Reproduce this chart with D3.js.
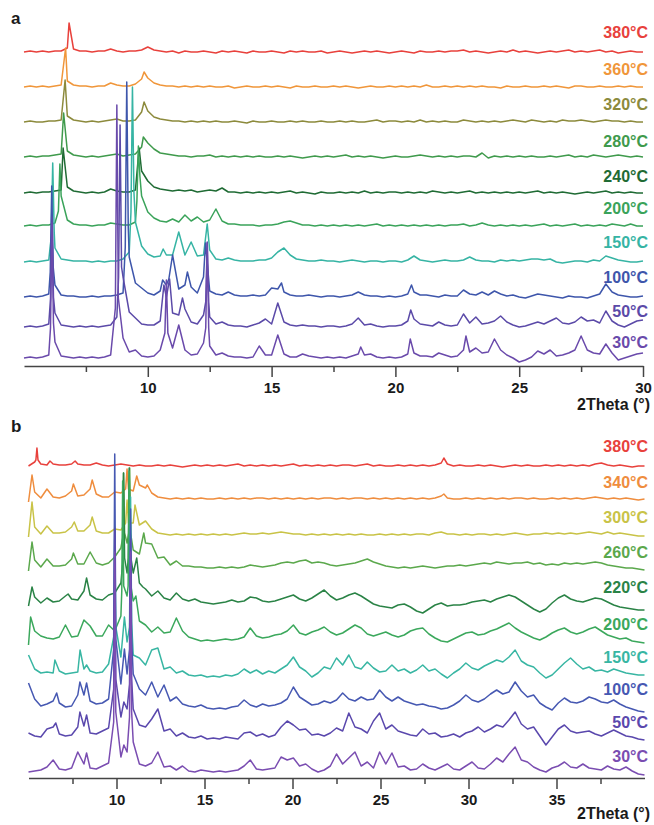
<!DOCTYPE html>
<html>
<head>
<meta charset="utf-8">
<script src="https://cdn.jsdelivr.net/npm/d3@7"></script>
<style>
  html, body { margin: 0; padding: 0; background: #ffffff; }
  svg { display: block; font-family: "Liberation Sans", Arial, sans-serif; }
</style>
</head>
<body>
<svg id="chart" width="654" height="825"></svg>
<script>
// ---------------------------------------------------------------
// In-situ variable-temperature PXRD patterns (two samples, a and b)
// Each pattern: intensities sampled on a regular 2θ grid, plus extra
// [2θ, intensity] points at reflection maxima between grid nodes.
// ---------------------------------------------------------------

// 2θ sampling of the patterns
const gridA = { start: 5, step: 0.25 };   // 5–30°, 101 points
const gridB = { start: 5, step: 0.35 };   // 5–40°, 101 points

// axis ticks
const majorA = [10, 15, 20, 25, 30];
const minorA = [7.5, 12.5, 17.5, 22.5, 27.5];
const majorB = [10, 15, 20, 25, 30, 35];
const minorB = [7.5, 12.5, 17.5, 22.5, 27.5, 32.5, 37.5];

// temperatures, top to bottom
const tempA = ["380°C", "360°C", "320°C", "280°C", "240°C", "200°C", "150°C", "100°C", "50°C", "30°C"];
const tempB = ["380°C", "340°C", "300°C", "260°C", "220°C", "200°C", "150°C", "100°C", "50°C", "30°C"];

// ---------------- sample a ----------------
const a380 = [
  0,1,0,1,0,1,1,4,3,1,
  1,0,1,1,3,1,0,1,1,2,
  5,2,1,0,1,-1,1,0,0,1,
  0,-1,1,0,1,0,-1,1,0,0,
  1,0,-1,1,0,1,0,0,1,-1,
  0,1,0,-1,0,1,0,1,0,-1,
  0,1,0,-1,1,0,0,1,0,1,
  1,2,0,1,0,-1,0,1,0,2,
  0,1,0,-1,0,1,0,1,2,0,
  1,0,1,2,0,1,-1,0,1,0,
  0];
const a380Pk = [[6.82, 29]];

const a360 = [
  0,1,0,1,0,1,2,6,2,1,
  1,0,1,1,4,2,1,1,3,8,
  9,4,2,1,1,0,1,0,1,0,
  1,0,0,1,-1,0,1,0,0,1,
  0,1,0,-1,1,0,0,1,0,0,
  1,0,1,0,-1,0,1,0,0,1,
  0,1,0,1,0,2,0,0,1,0,
  1,0,1,0,1,0,0,-1,1,0,
  0,1,0,0,1,0,1,0,-1,1,
  1,0,0,1,0,0,1,0,1,0,
  0];
const a360Pk = [[6.68, 39], [9.85, 15]];

const a320 = [
  0,1,0,0,1,1,2,6,2,1,
  0,1,0,1,2,3,1,1,2,10,
  11,5,3,2,1,1,0,1,0,1,
  0,1,0,0,1,0,-1,1,0,0,
  1,0,0,1,0,1,0,0,1,0,
  0,1,0,1,0,0,1,2,0,1,
  1,0,1,0,2,0,1,0,1,0,
  0,2,1,0,1,0,1,0,1,2,
  1,0,2,1,0,1,0,2,1,1,
  2,1,0,1,2,1,1,0,1,0,
  0];
const a320Pk = [[6.66, 42], [9.85, 20]];

const a280 = [
  0,1,0,1,1,2,3,6,2,1,
  0,1,0,1,2,3,1,2,3,10,
  14,8,4,3,2,1,1,0,1,1,
  2,0,1,0,1,0,1,0,1,0,
  0,1,0,1,0,-1,0,1,0,1,
  0,1,2,0,1,0,1,0,-1,0,
  1,0,0,1,2,1,0,1,0,1,
  0,1,1,0,4,-1,1,0,1,0,
  1,0,1,0,0,1,0,1,2,0,
  1,0,2,1,0,1,2,1,0,1,
  0];
const a280Pk = [[6.6, 44], [9.82, 20]];

const a240 = [
  0,1,0,1,1,2,3,6,2,1,
  0,1,0,1,4,2,1,1,3,22,
  12,6,4,3,2,3,2,3,1,2,
  3,2,5,1,1,0,1,0,1,0,
  1,0,1,2,0,1,0,-1,1,0,
  0,1,0,1,0,2,0,1,0,1,
  1,0,1,0,1,0,2,1,0,1,
  0,1,2,0,1,0,1,0,1,0,
  1,0,1,2,0,1,0,1,0,-1,
  0,1,0,1,2,0,1,0,1,0,
  0];
const a240Pk = [[6.58, 45], [9.65, 45]];

const a200 = [
  0,1,0,1,1,3,30,6,2,1,
  1,0,1,1,3,2,1,1,4,30,
  14,8,5,4,7,4,11,5,9,4,
  6,17,5,2,2,1,1,1,0,1,
  1,2,4,5,3,1,1,0,1,0,
  1,0,1,0,1,0,1,2,0,1,
  0,1,0,1,0,1,0,1,0,1,
  1,2,0,1,3,1,0,1,0,1,
  0,1,0,1,2,0,1,0,1,2,
  0,1,0,1,0,2,1,0,2,0,
  0];
const a200Pk = [[6.39, 15], [6.45, 62], [9.56, 25], [9.62, 80], [9.68, 50]];

const a150 = [
  0,1,0,1,2,14,3,2,1,1,
  1,0,1,0,1,1,3,10,40,16,
  8,5,6,7,7,30,7,20,6,7,
  12,3,2,4,2,1,1,1,2,2,
  4,10,14,7,3,2,1,1,2,1,
  1,0,1,2,1,0,1,1,0,1,
  1,0,2,6,2,1,0,1,2,1,
  1,2,5,2,1,1,0,2,1,2,
  1,2,3,3,2,3,0,-1,0,1,
  1,0,2,1,6,4,2,1,0,0,
  1];
const a150Pk = [[6.1, 25], [6.16, 99], [6.22, 30], [9.32, 50], [9.38, 175], [9.44, 70],
                [10.62, 13], [12.4, 38]];

const a100 = [
  0,1,0,1,3,12,2,1,1,0,
  0,1,0,1,1,2,4,40,14,9,
  4,2,6,12,42,8,12,10,4,20,
  6,3,2,5,2,1,1,2,1,2,
  9,8,5,2,1,1,2,1,0,1,
  1,0,1,2,5,2,1,1,0,1,
  0,1,3,5,2,2,1,0,2,1,
  1,7,3,2,5,2,6,3,1,2,
  0,-1,1,3,2,1,0,-1,1,0,
  0,-1,1,3,13,5,2,1,0,0,
  1];
const a100Pk = [[6.06, 25], [6.12, 111], [6.18, 30], [9.09, 50], [9.15, 215], [9.21, 70],
                [10.6, 17], [10.85, 18], [11.6, 25], [12.33, 54], [15.4, 14], [20.65, 12]];

const a50 = [
  0,1,0,1,3,14,2,1,0,1,
  0,1,0,1,2,10,50,15,9,3,
  2,2,6,30,14,12,18,5,3,12,
  10,3,5,2,1,1,0,2,4,8,
  3,24,5,2,1,2,1,1,0,1,
  1,0,1,3,9,2,3,1,0,1,
  1,2,6,8,3,2,1,5,2,1,
  2,13,4,10,3,4,6,11,5,2,
  0,1,3,5,3,6,9,4,3,5,
  10,6,7,4,16,6,2,0,3,6,
  7];
const a50Pk = [[6.07, 28], [6.13, 110], [6.19, 30], [8.82, 50], [8.88, 202], [8.94, 60],
               [10.65, 42], [10.88, 48], [11.4, 29], [12.34, 25], [12.4, 85], [12.46, 25], [20.62, 17]];

const a30 = [
  0,1,0,1,3,16,2,1,0,1,
  0,1,0,1,3,253,20,6,8,2,
  1,2,8,78,10,33,8,3,4,15,
  12,3,5,2,1,1,0,1,12,3,
  3,23,4,1,1,4,2,1,0,1,
  0,1,0,2,4,3,4,1,0,1,
  0,1,4,5,2,2,1,5,3,1,
  2,8,6,10,5,6,19,8,3,0,
  -4,-2,1,7,4,8,2,3,5,8,
  22,8,5,4,14,5,-2,0,2,4,
  5];
const a30Pk = [[6.07, 30], [6.13, 135], [6.19, 35], [8.69, 50], [8.81, 60],
               [10.69, 25], [10.81, 25], [12.34, 30], [12.4, 115], [12.46, 30],
               [18.6, 11], [20.6, 19], [22.85, 22]];

// ---------------- sample b ----------------
const b380 = [
  0,4,2,1,2,1,1,2,2,1,
  1,3,1,0,1,2,1,0,1,0,
  0,1,0,1,0,-1,0,1,0,1,
  0,1,0,1,2,0,1,0,1,0,
  1,0,1,2,0,1,0,1,0,1,
  0,1,1,0,1,2,0,1,0,0,
  1,0,1,0,1,0,1,3,2,0,
  1,0,0,1,0,1,0,-1,0,1,
  0,1,0,0,1,0,1,0,1,0,
  1,0,2,3,1,0,1,0,-1,0,
  0];
const b380Pk = [[5.42, 6], [5.48, 18], [5.54, 6], [6.22, 5], [7.65, 5], [28.6, 8]];

const b340 = [
  -3,7,1,10,2,1,3,8,3,4,
  10,5,2,2,7,6,30,8,14,11,
  6,2,1,0,1,0,1,0,1,0,
  0,1,0,1,0,1,0,1,1,0,
  1,0,1,0,1,0,1,0,1,1,
  0,1,0,1,1,0,1,0,1,0,
  1,0,1,0,1,0,1,3,1,0,
  0,1,0,1,0,1,0,1,0,1,
  1,0,1,0,0,1,0,1,0,1,
  0,1,2,1,0,1,0,1,0,-1,
  0];
const b340Pk = [[5.2, 24], [7.55, 15], [8.62, 19], [10.52, 10], [10.68, 10],
                [11.15, 23], [11.75, 14], [28.6, 5]];

const b300 = [
  -2,8,1,9,2,2,3,8,4,4,
  10,4,2,2,6,5,35,12,10,14,
  6,2,1,0,1,0,1,0,1,0,
  1,0,1,0,1,2,1,1,2,1,
  2,3,2,1,1,0,1,0,1,0,
  1,0,1,0,1,0,0,1,0,1,
  0,1,0,1,1,0,2,3,1,1,
  0,1,0,1,1,0,1,0,1,2,
  1,0,1,1,2,1,2,1,2,1,
  2,3,2,1,3,1,2,1,0,-1,
  -1];
const b300Pk = [[5.2, 33], [7.6, 13], [8.62, 18], [10.52, 12], [10.68, 12], [11.05, 30]];

const b260 = [
  -3,8,1,9,2,2,3,9,4,4,
  16,5,3,5,11,20,25,18,14,25,
  24,10,11,3,7,2,2,1,1,0,
  0,1,0,1,0,1,3,2,1,2,
  3,5,6,5,7,8,5,6,5,3,
  2,3,4,5,7,9,6,4,2,1,
  0,1,0,1,2,1,0,1,2,2,
  3,2,3,4,5,4,6,5,4,5,
  5,6,4,5,3,4,3,5,4,5,
  4,5,6,5,3,2,1,0,0,-1,
  -2];
const b260Pk = [[5.2, 26], [7.55, 15], [10.35, 30], [10.4, 95], [10.46, 35],
                [10.7, 35], [10.75, 100], [10.8, 35], [11.55, 35]];

const b220 = [
  -3,6,0,5,1,2,7,4,3,12,
  8,4,3,8,10,20,30,30,20,14,
  7,12,5,3,10,4,2,4,1,0,
  -1,0,1,3,1,2,6,5,2,1,
  2,4,6,8,4,2,5,9,13,7,
  3,5,8,10,7,3,-1,-3,-4,-5,
  -2,-1,-4,-8,-10,-6,-2,0,-3,-2,
  -2,-1,1,2,3,1,4,6,8,6,
  2,-2,-6,-9,-6,0,5,8,4,2,
  1,3,5,4,1,-2,-4,-5,-6,-7,
  -7];
const b220Pk = [[5.2, 16], [7.25, 9], [8.3, 25], [10.35, 40], [10.4, 130], [10.46, 45],
                [10.67, 45], [10.72, 135], [10.78, 50], [11.15, 45], [11.5, 16]];

const b200 = [
  -4,10,5,3,2,4,16,4,5,21,
  15,5,5,16,10,25,45,40,20,16,
  9,14,8,9,23,10,4,2,0,1,
  0,1,2,1,2,4,13,5,3,4,
  6,7,10,16,8,6,9,11,14,9,
  6,8,12,16,13,7,5,7,9,6,
  4,6,10,12,13,7,3,0,-1,2,
  5,8,9,6,7,10,12,15,18,13,
  9,6,3,1,4,8,11,13,9,7,
  9,12,14,10,6,4,2,3,0,-1,
  -2];
const b200Pk = [[5.12, 24], [10.3, 50], [10.35, 160], [10.41, 55], [10.66, 55],
                [10.72, 170], [10.78, 60], [11.1, 45]];

const b150 = [
  22,8,4,5,4,6,3,4,5,8,
  6,4,5,13,150,20,35,22,19,12,
  27,29,8,10,4,6,2,1,2,0,
  1,0,2,1,3,8,4,7,3,6,
  4,8,12,20,10,6,0,4,10,8,
  19,12,22,10,8,15,9,5,6,12,
  6,8,4,7,12,6,8,3,-1,4,
  8,14,9,7,11,14,17,15,20,27,
  16,12,10,4,-1,2,8,14,19,13,
  8,10,6,7,5,8,6,4,3,2,
  2];
const b150Pk = [[6.5, 17], [7.93, 27], [8.3, 12], [9.84, 40], [9.96, 50],
                [10.45, 60], [10.74, 50], [10.8, 180], [10.86, 55]];

const b100 = [
  26,10,3,5,8,6,2,3,14,14,
  8,5,6,10,255,25,35,35,20,14,
  27,12,24,8,12,5,3,2,4,1,
  0,1,0,2,3,9,4,2,5,3,
  4,6,10,22,12,8,4,5,8,6,
  9,16,10,8,12,9,10,19,12,8,
  12,8,6,4,5,3,2,0,1,4,
  8,14,9,7,10,15,19,15,17,27,
  18,12,14,6,2,-1,6,11,7,6,
  8,12,10,7,6,9,5,2,0,-2,
  -3];
const b100Pk = [[6.6, 16], [7.92, 27], [8.3, 26], [9.84, 60], [9.96, 70],
                [10.45, 60], [10.74, 60], [10.8, 200], [10.86, 70]];

const b50 = [
  6,3,2,10,12,5,3,4,12,13,
  6,5,8,11,210,22,30,30,14,12,
  20,30,8,10,3,6,2,1,3,0,
  1,0,2,1,0,6,7,3,5,2,
  4,12,18,14,9,10,4,5,3,6,
  11,8,26,12,10,6,18,26,10,14,
  8,6,4,3,10,5,6,2,3,5,
  2,6,8,12,7,10,14,12,19,27,
  15,10,12,3,-6,2,10,14,8,6,
  7,8,5,3,6,9,6,3,2,0,
  -1];
const b50Pk = [[6.55, 16], [7.92, 27], [8.3, 24], [9.84, 50], [9.96, 60],
               [10.42, 37], [10.74, 55], [10.8, 200], [10.86, 60]];

const b30 = [
  0,1,2,5,12,3,2,4,20,8,
  4,3,6,9,220,15,20,30,8,6,
  9,20,5,6,2,6,1,0,2,1,
  0,1,0,1,2,6,12,3,2,3,
  4,15,12,14,6,8,3,0,2,6,
  18,8,14,20,6,10,4,20,8,19,
  5,6,2,3,8,4,2,5,8,3,
  2,6,10,4,3,8,14,10,18,25,
  12,10,5,2,0,4,6,10,5,4,
  8,4,3,2,6,3,2,5,1,-2,
  -3];
const b30Pk = [[8.3, 19], [9.84, 50], [9.96, 60], [10.42, 27], [10.74, 55],
               [10.8, 220], [10.86, 60]];

// ---------------------------------------------------------------
// layout of the two stacked panels
// ---------------------------------------------------------------
const panels = [
  {
    letter: "a", letterY: 24,
    grid: gridA, domain: [5, 30], left: 24, right: 643,
    axisY: 366, top: 26, titleY: 410,
    majors: majorA, minors: minorA,
    temps: tempA,
    colors: ["#e8413c", "#f0963a", "#8c8a3c", "#3f9a4c", "#1f6b34",
             "#3aa35a", "#36b4a4", "#3e56ab", "#5b4aa8", "#6a4aab"],
    offsets: [314, 279, 244, 209, 173, 140, 104, 69, 39, 8],
    labelY: [38, 75, 110, 147, 182, 214, 248, 283, 317, 348],
    values: [a380, a360, a320, a280, a240, a200, a150, a100, a50, a30],
    peaks:  [a380Pk, a360Pk, a320Pk, a280Pk, a240Pk, a200Pk, a150Pk, a100Pk, a50Pk, a30Pk]
  },
  {
    letter: "b", letterY: 432,
    grid: gridB, domain: [5, 40], left: 28.5, right: 644.5,
    axisY: 778, top: 438, titleY: 819,
    majors: majorB, minors: minorB,
    temps: tempB,
    colors: ["#e8413c", "#ef8d3e", "#c9c347", "#5ba84c", "#2a8346",
             "#3ba85c", "#38b6a3", "#4658b2", "#5a48ad", "#7a4db1"],
    offsets: [312, 279, 243, 210, 175, 137, 101, 69, 39, 6],
    labelY: [452, 488, 523, 558, 593, 630, 663, 695, 728, 762],
    values: [b380, b340, b300, b260, b220, b200, b150, b100, b50, b30],
    peaks:  [b380Pk, b340Pk, b300Pk, b260Pk, b220Pk, b200Pk, b150Pk, b100Pk, b50Pk, b30Pk]
  }
];

// merge grid samples and reflection maxima into one [2θ, I] series
function buildSeries(grid, values, peaks) {
  const pts = values.map((v, i) => [+(grid.start + i * grid.step).toFixed(3), v]);
  return pts.concat(peaks).sort((p, q) => p[0] - q[0]);
}

const svg = d3.select("#chart");

panels.forEach(p => {
  const x = d3.scaleLinear().domain(p.domain).range([p.left, p.right]);
  const y = d3.scaleLinear().domain([0, p.axisY - p.top]).range([p.axisY, p.top]);
  const g = svg.append("g");

  // patterns: hottest first so the room-temperature traces sit on top
  p.values.forEach((vals, k) => {
    const series = buildSeries(p.grid, vals, p.peaks[k]);
    const line = d3.line()
      .x(d => x(d[0]))
      .y(d => y(p.offsets[k] + d[1]))
      .curve(d3.curveLinear);
    g.append("path")
      .datum(series)
      .attr("d", line)
      .attr("fill", "none")
      .attr("stroke", p.colors[k])
      .attr("stroke-width", 1.5)
      .attr("stroke-linejoin", "round");

    g.append("text")
      .attr("x", 648)
      .attr("y", p.labelY[k])
      .attr("text-anchor", "end")
      .attr("font-size", 16)
      .attr("font-weight", "bold")
      .attr("fill", p.colors[k])
      .text(p.temps[k]);
  });

  // 2θ axis: labelled major ticks and short minor ticks
  const axisMajor = d3.axisBottom(x)
    .tickValues(p.majors)
    .tickSize(11)
    .tickSizeOuter(0)
    .tickPadding(5)
    .tickFormat(d3.format("d"));
  const axisMinor = d3.axisBottom(x)
    .tickValues(p.minors)
    .tickSize(6)
    .tickSizeOuter(0)
    .tickFormat("");

  const ax = g.append("g").attr("transform", `translate(0,${p.axisY})`).call(axisMajor);
  const axm = g.append("g").attr("transform", `translate(0,${p.axisY})`).call(axisMinor);
  axm.select(".domain").remove();
  [ax, axm].forEach(a => {
    a.selectAll("path, line").attr("stroke", "#444").attr("stroke-width", 1.5);
  });
  ax.selectAll("text")
    .attr("font-size", 15)
    .attr("font-weight", "bold")
    .attr("fill", "#1a1a1a")
    .attr("font-family", "'Liberation Sans', Arial, sans-serif");

  // axis title
  g.append("text")
    .attr("x", 577)
    .attr("y", p.titleY)
    .attr("font-size", 16)
    .attr("font-weight", "bold")
    .attr("fill", "#1a1a1a")
    .text("2Theta (°)");

  // panel letter
  g.append("text")
    .attr("x", 11)
    .attr("y", p.letterY)
    .attr("font-size", 17)
    .attr("font-weight", "bold")
    .attr("fill", "#1a1a1a")
    .text(p.letter);
});
</script>
</body>
</html>
